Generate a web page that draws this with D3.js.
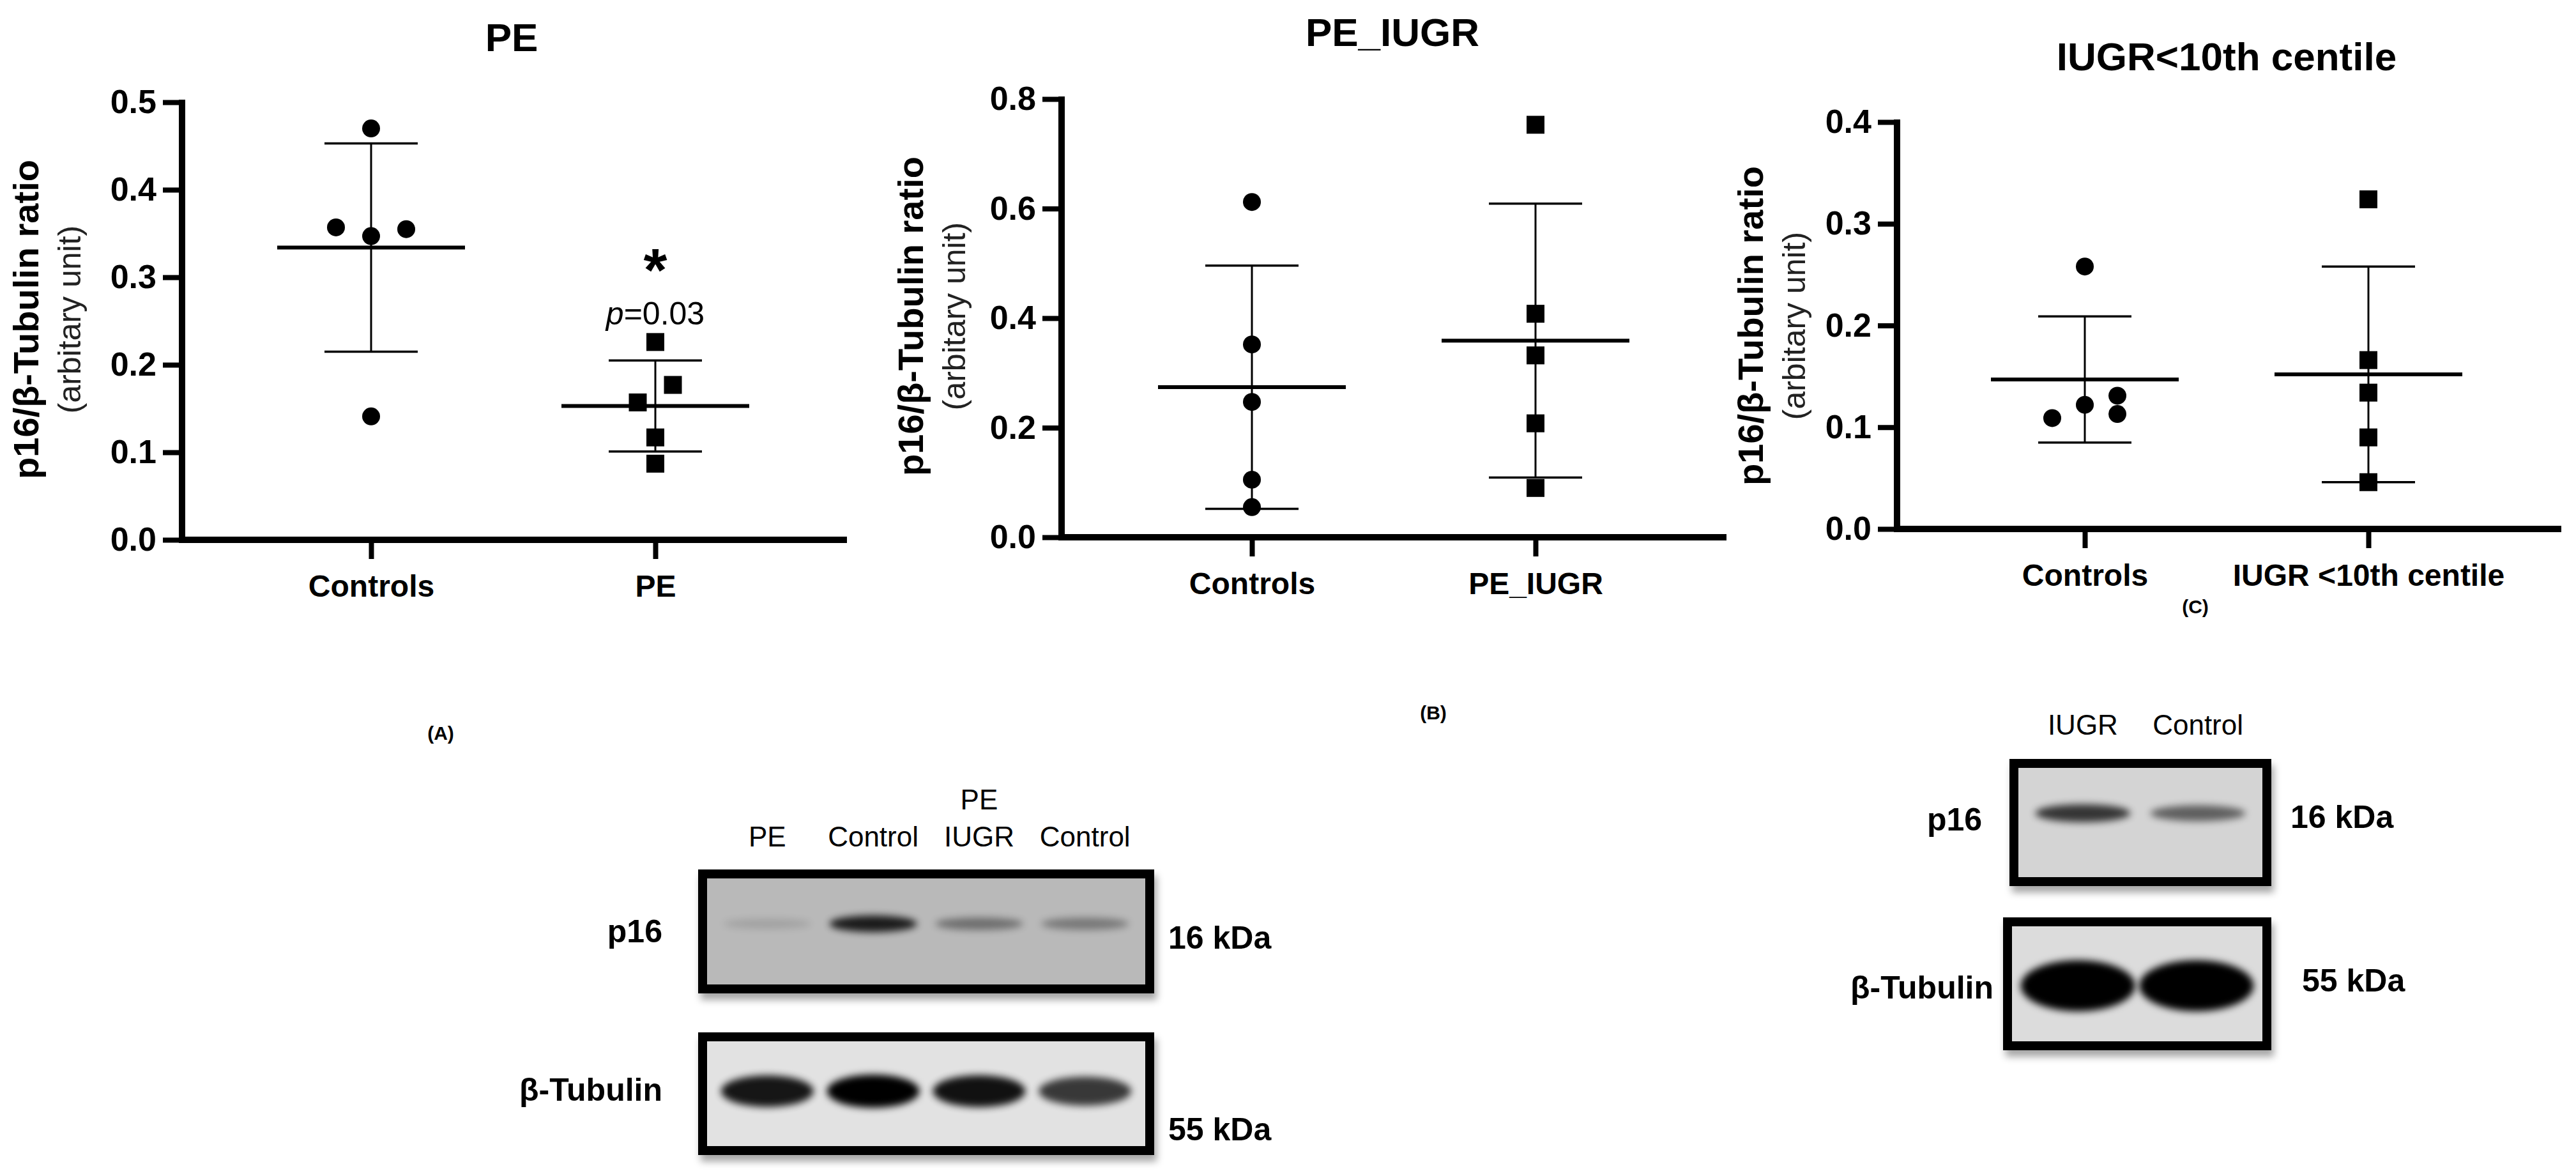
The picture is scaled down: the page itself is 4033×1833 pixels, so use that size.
<!DOCTYPE html>
<html><head><meta charset="utf-8">
<script src="https://d3js.org/d3.v7.min.js"></script>
<style>body{margin:0;background:#fff}svg{display:block}</style>
</head><body>
<svg id="c" width="4033" height="1833"></svg>
<script>
// ---- data ----
const titles = ["PE", "PE_IUGR", "IUGR<10th centile"];
const categoriesA = ["Controls", "PE"];
const categoriesB = ["Controls", "PE_IUGR"];
const categoriesC = ["Controls", "IUGR <10th centile"];
const ticksA = [0, 0.1, 0.2, 0.3, 0.4, 0.5];
const ticksB = [0, 0.2, 0.4, 0.6, 0.8];
const ticksC = [0, 0.1, 0.2, 0.3, 0.4];
const controlsA = [0.470, 0.357, 0.347, 0.355, 0.141];
const controlsAJitter = [0, -1, 0, 1, 0];
const peA = [0.226, 0.177, 0.157, 0.117, 0.087];
const peAJitter = [0, 0.5, -0.5, 0, 0];
const controlsB = [0.612, 0.352, 0.247, 0.105, 0.055];
const peIugrB = [0.753, 0.408, 0.332, 0.208, 0.090];
const controlsC = [0.258, 0.131, 0.122, 0.113, 0.109];
const controlsCJitter = [0, 1, 0, 1, -1];
const iugrC = [0.324, 0.166, 0.134, 0.090, 0.046];
const meansA = [0.334, 0.153], sdA = [0.119, 0.052];
const meansB = [0.274, 0.359], sdB = [0.222, 0.250];
const meansC = [0.147, 0.152], sdC = [0.062, 0.106];
const blot1Lanes = ["PE", "Control", "PE\nIUGR", "Control"];
const blot1P16 = [0.12, 0.85, 0.4, 0.35];
const blot1Tub = [0.9, 1.0, 0.92, 0.75];
const blot2Lanes = ["IUGR", "Control"];
const blot2P16 = [0.75, 0.55];
const blot2Tub = [1.0, 1.0];

const svg = d3.select("#c");
const F = "'Liberation Sans', Arial, sans-serif";

function panel(o) {
  const g = svg.append("g");
  const y = d3.scaleLinear().domain([0, o.max]).range([o.bottom, o.top]);
  const x = d3.scalePoint().domain(o.cats).range([o.c0, o.c1]);
  g.append("text").attr("x", o.titleX).attr("y", o.titleY).attr("text-anchor", "middle")
    .attr("font-family", F).attr("font-weight", "bold").attr("font-size", 62).text(o.title);
  const ya = g.append("g").attr("transform", `translate(${o.axisX},0)`)
    .call(d3.axisLeft(y).tickValues(o.ticks).tickFormat(d3.format(".1f")).tickSize(30).tickSizeOuter(0));
  ya.select(".domain").attr("stroke-width", 10).attr("d", `M0,${o.top - 4}V${o.bottom + 5}`);
  ya.selectAll(".tick line").attr("stroke-width", 8);
  ya.selectAll(".tick text").attr("font-family", F).attr("font-weight", "bold").attr("font-size", 52).attr("x", -40);
  const xa = g.append("g").attr("transform", `translate(0,${o.bottom})`)
    .call(d3.axisBottom(x).tickSize(30).tickSizeOuter(0));
  xa.select(".domain").attr("stroke-width", 10).attr("d", `M${o.axisX - 5},0H${o.xEnd}`);
  xa.selectAll(".tick line").attr("stroke-width", 8);
  xa.selectAll(".tick text").attr("font-family", F).attr("font-weight", "bold").attr("font-size", 48).attr("y", 55);
  const yl = g.append("text").attr("transform", `translate(${o.labX},${o.labY}) rotate(-90)`)
    .attr("text-anchor", "middle").attr("font-family", F);
  yl.append("tspan").attr("x", 0).attr("dy", 0).attr("font-weight", "bold").attr("font-size", 56).text("p16/β-Tubulin ratio");
  yl.append("tspan").attr("x", 0).attr("dy", 66).attr("font-size", 50).attr("fill", "#222").text("(arbitary unit)");
  o.means.forEach((m, i) => {
    const cx = x(o.cats[i]);
    g.append("line").attr("x1", cx).attr("x2", cx).attr("y1", y(m + o.sd[i])).attr("y2", y(m - o.sd[i])).attr("stroke", "#000").attr("stroke-width", 3);
    [m + o.sd[i], m - o.sd[i]].forEach(v => g.append("line").attr("x1", cx - 73).attr("x2", cx + 73).attr("y1", y(v)).attr("y2", y(v)).attr("stroke", "#000").attr("stroke-width", 3.5));
    g.append("line").attr("x1", cx - 147).attr("x2", cx + 147).attr("y1", y(m)).attr("y2", y(m)).attr("stroke", "#000").attr("stroke-width", 6);
  });
  const cx0 = x(o.cats[0]), cx1 = x(o.cats[1]);
  g.selectAll("circle.p").data(o.s0).enter().append("circle")
    .attr("cx", (d, i) => cx0 + (o.j0 ? o.j0[i] : 0) * o.jw).attr("cy", d => y(d)).attr("r", 14).attr("fill", "#000");
  g.selectAll("rect.p").data(o.s1).enter().append("rect")
    .attr("x", (d, i) => cx1 + (o.j1 ? o.j1[i] : 0) * o.jw - 14).attr("y", d => y(d) - 14).attr("width", 28).attr("height", 28).attr("fill", "#000");
  return {g, x, y};
}

const A = panel({title: titles[0], titleX: 801, titleY: 80, max: 0.5, top: 160, bottom: 845, axisX: 285, xEnd: 1326,
  c0: 581, c1: 1026, cats: categoriesA, ticks: ticksA, labX: 60, labY: 500, means: meansA, sd: sdA,
  s0: controlsA, j0: controlsAJitter, s1: peA, j1: peAJitter, jw: 55});
A.g.append("text").attr("x", A.x("PE")).attr("y", 455).attr("text-anchor", "middle").attr("font-family", F)
  .attr("font-weight", "bold").attr("font-size", 95).text("*");
const pt = A.g.append("text").attr("x", A.x("PE")).attr("y", 508).attr("text-anchor", "middle").attr("font-family", F).attr("font-size", 50);
pt.append("tspan").attr("font-style", "italic").text("p");
pt.append("tspan").text("=0.03");

panel({title: titles[1], titleX: 2180, titleY: 72, max: 0.8, top: 155, bottom: 841, axisX: 1662, xEnd: 2703,
  c0: 1960, c1: 2404, cats: categoriesB, ticks: ticksB, labX: 1445, labY: 495, means: meansB, sd: sdB,
  s0: controlsB, s1: peIugrB, jw: 0});

panel({title: titles[2], titleX: 3486, titleY: 110, max: 0.4, top: 191, bottom: 828, axisX: 2970, xEnd: 4010,
  c0: 3264, c1: 3708, cats: categoriesC, ticks: ticksC, labX: 2760, labY: 510, means: meansC, sd: sdC,
  s0: controlsC, j0: controlsCJitter, s1: iugrC, jw: 51});

const small = (x, y, t) => svg.append("text").attr("x", x).attr("y", y).attr("text-anchor", "middle").attr("font-family", F).attr("font-weight", "bold").attr("font-size", 30).text(t);
small(690, 1158, "(A)"); small(2244, 1126, "(B)"); small(3437, 960, "(C)");

// ---- blots ----
const defs = svg.append("defs");
defs.append("filter").attr("id", "blur").attr("x", "-50%").attr("y", "-100%").attr("width", "200%").attr("height", "300%")
  .append("feGaussianBlur").attr("stdDeviation", 6);
const sh = defs.append("filter").attr("id", "shadow").attr("x", "-10%").attr("y", "-10%").attr("width", "130%").attr("height", "140%");
sh.append("feDropShadow").attr("dx", 4).attr("dy", 10).attr("stdDeviation", 6).attr("flood-color", "#000").attr("flood-opacity", 0.35);

function blot(x0, y0, w, h, bg, lanes, vals, bandY, bandH, widthFrac) {
  const g = svg.append("g");
  g.append("rect").attr("x", x0).attr("y", y0).attr("width", w).attr("height", h).attr("fill", bg)
    .attr("stroke", "#000").attr("stroke-width", 14).attr("filter", "url(#shadow)");
  const xb = d3.scaleBand().domain(d3.range(lanes.length)).range([x0 + 25, x0 + w - 25]).paddingInner(0.08);
  const clip = "cl" + Math.round(x0 + y0);
  defs.append("clipPath").attr("id", clip).append("rect").attr("x", x0 + 7).attr("y", y0 + 7).attr("width", w - 14).attr("height", h - 14);
  const gb = g.append("g").attr("clip-path", `url(#${clip})`);
  gb.selectAll("ellipse").data(vals).enter().append("ellipse")
    .attr("cx", (d, i) => xb(i) + xb.bandwidth() / 2).attr("cy", y0 + bandY)
    .attr("rx", d => xb.bandwidth() / 2 * widthFrac).attr("ry", d => bandH * (0.5 + 0.5 * d))
    .attr("fill", "#000").attr("opacity", d => d).attr("filter", "url(#blur)");
  return {g, xb};
}
const lab = (x, y, t, size, bold, anchor) => svg.append("text").attr("x", x).attr("y", y).attr("text-anchor", anchor || "middle")
  .attr("font-family", F).attr("font-weight", bold ? "bold" : "normal").attr("font-size", size).text(t);

const b1 = blot(1100, 1368, 700, 180, "#b9b9b9", blot1Lanes, blot1P16, 78, 14, 0.9);
blot(1100, 1623, 700, 178, "#e2e2e2", blot1Lanes, blot1Tub, 85, 26, 0.95);
blot1Lanes.forEach((t, i) => {
  const cx = b1.xb(i) + b1.xb.bandwidth() / 2;
  const parts = t.split("\n");
  parts.forEach((p, k) => lab(cx, 1325 - (parts.length - 1 - k) * 58, p, 44, false));
});
lab(1037, 1475, "p16", 50, true, "end");
lab(1037, 1723, "β-Tubulin", 50, true, "end");
lab(1829, 1485, "16 kDa", 50, true, "start");
lab(1829, 1785, "55 kDa", 50, true, "start");

const b2 = blot(3153, 1195, 396, 185, "#d4d4d4", blot2Lanes, blot2P16, 78, 16, 0.9);
blot(3143, 1443, 406, 194, "#dcdcdc", blot2Lanes, blot2Tub, 100, 40, 1.05);
blot2Lanes.forEach((t, i) => lab(b2.xb(i) + b2.xb.bandwidth() / 2, 1150, t, 44, false));
lab(3060, 1300, "p16", 50, true, "middle");
lab(3121, 1563, "β-Tubulin", 50, true, "end");
lab(3586, 1296, "16 kDa", 50, true, "start");
lab(3604, 1552, "55 kDa", 50, true, "start");
</script>
</body></html>
